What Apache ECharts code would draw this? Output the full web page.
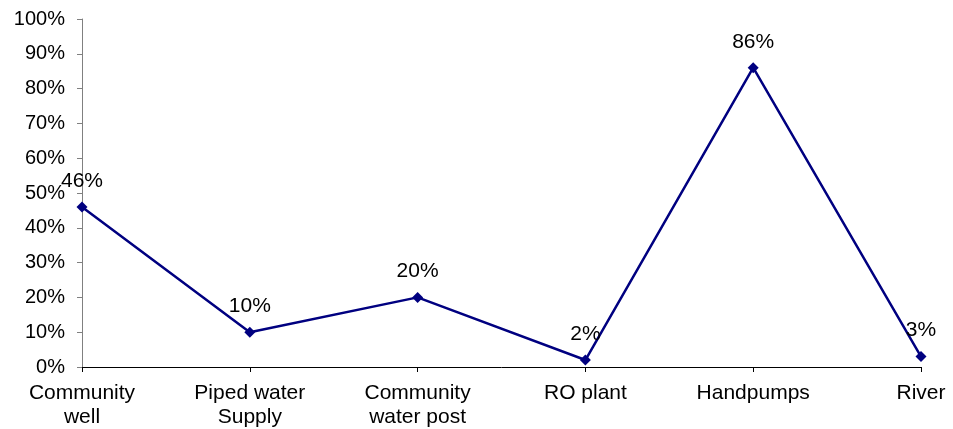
<!DOCTYPE html>
<html><head><meta charset="utf-8">
<script src="https://cdn.jsdelivr.net/npm/echarts@6/dist/echarts.min.js"></script>
<style>html,body{margin:0;padding:0;background:#fff}#c{width:953px;height:429px}</style>
</head><body><div id="c"></div>
<script>
const categories = ["Community\nwell", "Piped water\nSupply", "Community\nwater post", "RO plant", "Handpumps", "River"];
const values = [46, 10, 20, 2, 86, 3];
const yTicks = [0, 10, 20, 30, 40, 50, 60, 70, 80, 90, 100];

const chart = echarts.init(document.getElementById('c'), null, {renderer: 'canvas'});
const font = 'Liberation Sans, Arial, sans-serif';
chart.setOption({
  animation: false,
  backgroundColor: '#fff',
  grid: {left: 82, right: 32, top: 19, bottom: 61, containLabel: false},
  xAxis: {
    type: 'category', data: categories, boundaryGap: false,
    axisLine: {lineStyle: {color: '#000', width: 1}},
    axisTick: {show: true, length: 5, lineStyle: {color: '#000'}},
    axisLabel: {color: '#000', fontSize: 21, fontFamily: font, lineHeight: 24, margin: 14, interval: 0}
  },
  yAxis: {
    type: 'value', min: 0, max: 100, interval: 10,
    axisLine: {show: true, lineStyle: {color: '#808080', width: 1}},
    axisTick: {show: true, length: 5, lineStyle: {color: '#808080'}},
    splitLine: {show: false},
    axisLabel: {color: '#000', fontSize: 20, fontFamily: font, margin: 17, formatter: v => yTicks.includes(v) ? v + '%' : ''}
  },
  series: [{
    type: 'line', data: values,
    lineStyle: {color: '#000080', width: 2.5},
    itemStyle: {color: '#000080'},
    symbol: 'diamond', symbolSize: 11, showAllSymbol: true,
    label: {show: true, position: 'top', distance: 10, color: '#000', fontSize: 21, fontFamily: font, formatter: p => p.value + '%'}
  }]
});
</script></body></html>
